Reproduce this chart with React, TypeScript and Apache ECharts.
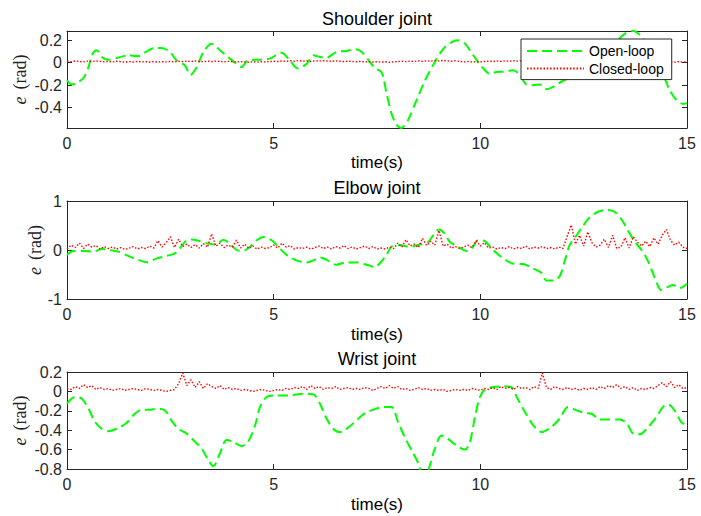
import React, { useEffect, useRef } from 'react';
import * as echarts from 'echarts';

// ---------- data ----------
const X_TICKS = [0, 5, 10, 15];
const SHOULDER_Y_TICKS = [-0.4, -0.2, 0, 0.2];

const shoulderOpenT = [0,0.11,0.39,0.52,0.6,0.72,0.84,1.0,1.24,1.48,1.72,1.93,2.13,2.29,2.49,2.65,2.85,2.99,3.14,3.3,3.5,3.7,3.94,4.1,4.22,4.38,4.67,4.91,5.19,5.39,5.59,5.8,5.96,6.12,6.28,6.52,6.76,6.96,7.13,7.33,7.45,7.61,7.73,7.85,7.97,8.09,8.25,8.46,8.66,8.9,9.1,9.3,9.46,9.63,9.83,10.03,10.23,10.39,10.59,10.79,10.96,11.12,11.28,11.44,11.6,11.76,11.96,12.25,12.5,12.75,13.0,13.25,13.5,13.7,13.9,14.1,14.3,14.46,14.58,14.74,14.9,15];
const shoulderOpenV = [-0.155,-0.195,-0.14,-0.04,0.065,0.11,0.05,0.026,0.044,0.065,0.056,0.1,0.13,0.13,0.094,0.02,-0.024,-0.11,-0.04,0.094,0.168,0.11,0.035,-0.01,-0.04,0.02,0.026,0.035,0.088,0.02,-0.053,-0.01,0.065,0.05,0.044,0.094,0.103,0.118,0.094,0.005,-0.05,-0.085,-0.27,-0.45,-0.55,-0.58,-0.51,-0.33,-0.16,0.005,0.12,0.18,0.197,0.168,0.065,-0.033,-0.1,-0.083,-0.08,-0.068,-0.11,-0.195,-0.2,-0.195,-0.236,-0.215,-0.17,-0.12,-0.06,0.0,0.08,0.17,0.257,0.28,0.227,0.1,-0.04,-0.14,-0.245,-0.33,-0.365,-0.36];

const elbowOpenT = [0,0.15,0.39,0.64,0.84,1.04,1.24,1.48,1.72,1.93,2.17,2.41,2.61,2.73,2.9,3.02,3.22,3.42,3.62,3.78,3.94,4.1,4.26,4.43,4.59,4.75,4.95,5.11,5.31,5.55,5.8,5.96,6.12,6.28,6.52,6.76,7.0,7.25,7.45,7.57,7.73,7.85,8.05,8.29,8.54,8.74,8.86,9.0,9.14,9.26,9.46,9.67,9.79,9.95,10.11,10.31,10.55,10.8,11.04,11.28,11.48,11.6,11.76,11.92,12.04,12.16,12.33,12.49,12.65,12.85,13.05,13.25,13.41,13.57,13.74,13.9,14.06,14.22,14.38,14.54,14.66,14.82,15];
const elbowOpenV = [-0.1,-0.02,-0.02,-0.033,0.02,0.0,-0.033,-0.12,-0.2,-0.25,-0.17,-0.12,-0.067,0.033,0.2,0.213,0.18,0.13,0.113,0.21,0.13,0.0,-0.02,0.067,0.2,0.267,0.2,0.067,-0.1,-0.213,-0.253,-0.213,-0.153,-0.2,-0.3,-0.253,-0.253,-0.3,-0.347,-0.27,-0.1,0.067,0.1,0.067,0.113,0.167,0.3,0.42,0.333,0.167,0.067,-0.02,0.033,0.2,0.18,0.0,-0.167,-0.28,-0.287,-0.38,-0.467,-0.62,-0.62,-0.533,-0.233,0.1,0.3,0.5,0.667,0.78,0.82,0.78,0.633,0.4,0.167,0.0,-0.233,-0.567,-0.82,-0.753,-0.713,-0.78,-0.687];

const wristOpenT = [0,0.19,0.36,0.52,0.68,0.84,1.0,1.2,1.44,1.64,1.81,2.0,2.17,2.37,2.53,2.69,2.9,3.1,3.26,3.42,3.54,3.7,3.86,4.02,4.22,4.38,4.55,4.67,4.83,5.07,5.39,5.71,5.96,6.12,6.28,6.44,6.6,6.8,7.0,7.21,7.41,7.65,7.85,8.01,8.17,8.34,8.5,8.6,8.7,8.78,8.9,9.06,9.22,9.42,9.63,9.75,9.87,9.99,10.11,10.31,10.55,10.75,10.88,11.08,11.28,11.48,11.72,11.92,12.12,12.33,12.53,12.69,12.89,13.13,13.37,13.54,13.7,13.86,14.06,14.26,14.42,14.54,14.7,14.86,15];
const wristOpenV = [-0.127,-0.058,-0.075,-0.178,-0.316,-0.385,-0.41,-0.385,-0.326,-0.23,-0.189,-0.189,-0.178,-0.196,-0.3,-0.385,-0.436,-0.52,-0.59,-0.71,-0.77,-0.64,-0.5,-0.52,-0.563,-0.52,-0.35,-0.16,-0.058,-0.041,-0.041,-0.024,-0.031,-0.127,-0.28,-0.385,-0.42,-0.374,-0.3,-0.223,-0.189,-0.16,-0.16,-0.316,-0.47,-0.61,-0.74,-0.85,-0.85,-0.76,-0.59,-0.454,-0.49,-0.557,-0.6,-0.52,-0.264,-0.058,0.018,0.045,0.052,0.045,-0.058,-0.213,-0.35,-0.42,-0.367,-0.28,-0.16,-0.196,-0.223,-0.23,-0.29,-0.29,-0.29,-0.326,-0.436,-0.443,-0.367,-0.264,-0.16,-0.134,-0.196,-0.316,-0.35];

// closed-loop samples every 0.1 s from 0 to 15 s
const CLOSED_STEP = 0.1;
const shoulderClosed = [
  0.012,0.008,0.014,0.010,0.006,0.013,0.009,0.015,0.011,0.007,
  0.010,0.006,0.012,0.008,0.004,0.009,0.005,0.010,0.006,0.008,
  0.005,0.009,0.004,0.008,0.006,0.010,0.007,0.012,0.009,0.013,
  0.010,0.014,0.011,0.008,0.012,0.009,0.013,0.010,0.007,0.011,
  0.008,0.005,0.009,0.006,0.003,0.007,0.004,0.008,0.005,0.009,
  0.012,0.009,0.014,0.011,0.016,0.012,0.018,0.013,0.015,0.011,
  0.016,0.013,0.017,0.014,0.011,0.015,0.012,0.009,0.013,0.010,
  0.007,0.010,0.006,0.009,0.005,0.008,0.004,0.007,0.003,0.006,
  0.009,0.012,0.008,0.013,0.010,0.015,0.011,0.016,0.012,0.018,
  0.014,0.019,0.015,0.012,0.016,0.010,0.006,0.009,0.005,0.008,
  0.006,0.010,0.013,0.009,0.014,0.011,0.015,0.012,0.016,0.013,
  0.017,0.014,0.011,0.015,0.012,0.016,0.013,0.010,0.014,0.011,
  0.008,0.012,0.009,0.006,0.010,0.007,0.011,0.008,0.012,0.009,
  0.013,0.010,0.007,0.011,0.008,0.005,0.009,0.006,0.010,0.007,
  0.004,0.008,0.005,0.009,0.006,0.003,0.007,0.004,0.008,0.005,
  0.006,
];
const elbowClosed = [
  0.02,0.10,0.05,0.14,0.03,0.12,0.06,0.09,0.02,0.07,
  0.03,0.06,0.02,0.05,0.01,0.04,0.07,0.02,0.05,0.03,
  0.08,0.04,0.19,0.06,0.15,0.27,0.05,0.22,0.07,0.12,
  0.05,0.11,0.04,0.13,0.06,0.33,0.08,0.14,0.05,0.10,
  0.06,0.20,0.04,0.12,0.03,0.08,0.02,0.06,0.03,0.05,
  0.10,0.04,0.14,0.06,0.09,0.02,0.05,0.03,0.06,0.02,
  0.05,0.08,0.03,0.06,0.02,0.07,0.04,0.09,0.03,0.06,
  0.02,0.05,0.08,0.03,0.07,0.02,0.04,0.02,0.06,0.03,
  0.14,0.06,0.21,0.08,0.12,0.05,0.24,0.09,0.18,0.10,
  0.40,0.08,0.12,0.04,0.07,0.03,0.06,0.10,0.05,0.19,
  0.08,0.15,0.04,0.06,0.02,0.05,0.03,0.07,0.02,0.05,
  0.03,0.08,0.02,0.06,0.04,0.07,0.03,0.05,0.02,0.06,
  0.03,0.28,0.51,0.12,0.30,0.08,0.37,0.15,0.06,0.10,
  0.22,0.05,0.30,0.03,0.06,0.25,0.04,0.27,0.16,0.08,
  0.18,0.07,0.25,0.12,0.30,0.42,0.20,0.10,0.16,0.06,
  0.03,
];
const wristClosed = [
  0.03,0.02,0.05,0.03,0.07,0.04,0.06,0.02,0.04,0.02,
  0.03,0.01,0.02,0.03,0.01,0.02,0.03,0.02,0.01,0.03,
  0.02,0.01,0.02,0.01,0.00,0.01,0.02,0.08,0.19,0.06,
  0.12,0.04,0.10,0.03,0.08,0.05,0.03,0.06,0.02,0.04,
  0.02,0.03,0.01,0.02,0.01,0.00,0.01,0.02,0.01,0.00,
  0.01,0.02,0.01,0.03,0.02,0.04,0.03,0.05,0.02,0.06,
  0.03,0.05,0.02,0.04,0.03,0.05,0.02,0.03,0.04,0.02,
  0.03,0.02,0.04,0.03,0.01,0.03,0.05,0.03,0.06,0.03,
  0.05,0.02,0.03,0.01,0.02,0.04,0.02,0.03,0.01,0.02,
  0.01,0.02,0.00,0.01,0.02,0.01,0.02,0.01,0.03,0.02,
  0.01,0.03,0.02,0.04,0.02,0.05,0.03,0.04,0.02,0.05,
  0.03,0.04,0.02,0.05,0.03,0.19,0.04,0.02,0.05,0.03,
  0.02,0.04,0.02,0.03,0.01,0.03,0.02,0.04,0.02,0.05,
  0.03,0.06,0.04,0.07,0.03,0.05,0.02,0.04,0.01,0.03,
  0.02,0.04,0.03,0.06,0.09,0.05,0.10,0.04,0.07,0.03,
  0.04,
];

const TITLES = ['Shoulder joint', 'Elbow joint', 'Wrist joint'];
const X_LABEL = 'time(s)';
const LEGEND_NAMES = ['Open-loop', 'Closed-loop'];

// ---------- styling / layout ----------
const SANS = "'Liberation Sans', Arial, Helvetica, sans-serif";
const SERIF = "'Liberation Serif', 'Times New Roman', serif";
const AX = '#262626';
const GREEN = '#00ff00';
const RED = '#ff0000';

const GRIDS = [
  { left: 67, top: 31, width: 620, height: 97 },
  { left: 67, top: 201, width: 620, height: 98 },
  { left: 67, top: 372, width: 620, height: 97 },
];
const Y_RANGES = [
  { min: -0.58, max: 0.28, custom: SHOULDER_Y_TICKS },
  { min: -1, max: 1, interval: 1 },
  { min: -0.8, max: 0.2, interval: 0.2 },
];
const TITLE_Y = [18.7, 187.7, 358.7];
const XLABEL_Y = [162.5, 334, 504.4];
const YLABEL_X = [19.7, 34.7, 19.7];

const pairs = (t: number[], v: number[]) => t.map((x, i) => [x, v[i]]);
const closedPairs = (v: number[]) => v.map((y, i) => [i * CLOSED_STEP, y]);

function buildOption() {
  const xAxis: any[] = [];
  const yAxis: any[] = [];
  const series: any[] = [];
  const graphic: any[] = [];
  const openData = [pairs(shoulderOpenT, shoulderOpenV), pairs(elbowOpenT, elbowOpenV), pairs(wristOpenT, wristOpenV)];
  const closedData = [closedPairs(shoulderClosed), closedPairs(elbowClosed), closedPairs(wristClosed)];

  GRIDS.forEach((g, i) => {
    const lineStyle = { color: AX, width: 1 };
    const xBase = {
      gridIndex: i, type: 'value', min: X_TICKS[0], max: X_TICKS[X_TICKS.length - 1], interval: 5,
      axisLine: { show: true, onZero: false, lineStyle },
      axisTick: { show: true, inside: true, length: 5, lineStyle },
      splitLine: { show: false },
    };
    xAxis.push({ ...xBase, position: 'bottom',
      axisLabel: { show: true, fontSize: 16, fontFamily: SANS, color: AX, margin: 7 } });
    xAxis.push({ ...xBase, position: 'top', axisLabel: { show: false } });

    const r: any = Y_RANGES[i];
    const yBase: any = {
      gridIndex: i, type: 'value', min: r.min, max: r.max,
      axisLine: { show: true, onZero: false, lineStyle },
      axisTick: { show: true, inside: true, length: 5, lineStyle },
      splitLine: { show: false },
    };
    if (r.custom) {
      yBase.axisTick.customValues = r.custom;
    } else {
      yBase.interval = r.interval;
    }
    const leftLabel: any = { show: true, fontSize: 16, fontFamily: SANS, color: AX, margin: 5 };
    if (r.custom) leftLabel.customValues = r.custom;
    yAxis.push({ ...yBase, position: 'left', axisLabel: leftLabel });
    yAxis.push({ ...yBase, position: 'right', axisLabel: { show: false } });

    series.push({
      name: LEGEND_NAMES[0], type: 'line', xAxisIndex: 2 * i, yAxisIndex: 2 * i,
      data: openData[i], symbol: 'none', smooth: 0.3, clip: true,
      lineStyle: { color: GREEN, width: 2, type: [10, 5] }, itemStyle: { color: GREEN },
    });
    series.push({
      name: LEGEND_NAMES[1], type: 'line', xAxisIndex: 2 * i, yAxisIndex: 2 * i,
      data: closedData[i], symbol: 'none', clip: true,
      lineStyle: { color: RED, width: 1.4, type: [1.5, 1.8] }, itemStyle: { color: RED },
    });

    const cx = g.left + g.width / 2;
    graphic.push({ type: 'text', x: cx, y: TITLE_Y[i], silent: true,
      style: { text: TITLES[i], font: `18px ${SANS}`, fill: '#000', align: 'center', verticalAlign: 'middle' } });
    graphic.push({ type: 'text', x: cx, y: XLABEL_Y[i], silent: true,
      style: { text: X_LABEL, font: `17px ${SANS}`, fill: '#000', align: 'center', verticalAlign: 'middle' } });
    graphic.push({ type: 'text', x: YLABEL_X[i], y: g.top + g.height / 2, rotation: Math.PI / 2, silent: true,
      style: {
        text: '{i|e}(rad)', fill: '#222', align: 'center', verticalAlign: 'middle',
        font: `18px ${SERIF}`,
        rich: {
          i: { fontStyle: 'italic', fontFamily: SERIF, fontSize: 18, padding: [0, 7, 0, 0], fill: '#222' },
        },
      } });
  });

  return {
    animation: false,
    backgroundColor: '#fff',
    grid: GRIDS.map((g) => ({ ...g, containLabel: false })),
    xAxis, yAxis, series, graphic,
    legend: {
      data: LEGEND_NAMES,
      orient: 'vertical', left: 521, top: 39,
      itemWidth: 57, itemHeight: 14, itemGap: 3.6,
      padding: [5, 8, 4, 5],
      backgroundColor: '#fff', borderColor: AX, borderWidth: 1,
      selectedMode: false,
      itemStyle: { opacity: 0, borderWidth: 0 },
      textStyle: { fontSize: 14, fontFamily: SANS, color: '#000' },
    },
  };
}

export default function App() {
  const ref = useRef<HTMLDivElement>(null);
  useEffect(() => {
    const chart = echarts.init(ref.current!, null, { renderer: 'svg' });
    chart.setOption(buildOption() as any);
    return () => chart.dispose();
  }, []);
  return (
    <div
      ref={ref}
      style={{ position: 'absolute', left: 0, top: 0, width: 701, height: 516, background: '#fff' }}
    />
  );
}
